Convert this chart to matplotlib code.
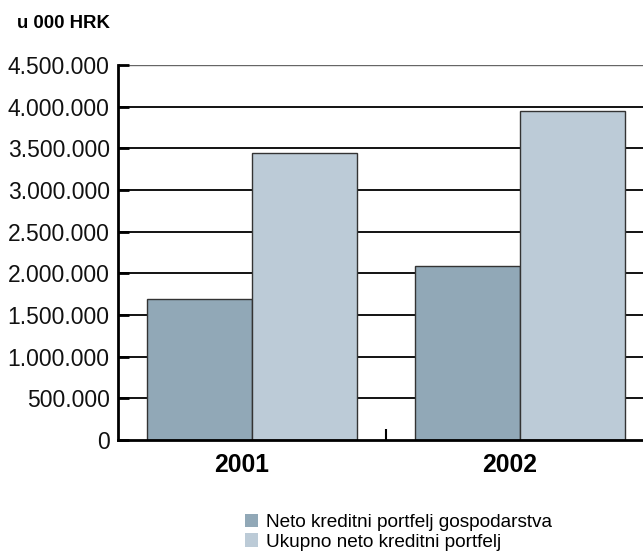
import numpy as np
import matplotlib
matplotlib.use('Agg')
import matplotlib.pyplot as plt
from matplotlib.ticker import FuncFormatter

years = ['2001', '2002']
neto_gospodarstvo = [1690000, 2090000]
ukupno_neto = [3445000, 3950000]
series_labels = ['Neto kreditni portfelj gospodarstva', 'Ukupno neto kreditni portfelj']
y_ticks = [0, 500000, 1000000, 1500000, 2000000, 2500000, 3000000, 3500000, 4000000, 4500000]

plt.rcParams['font.family'] = ['Liberation Sans', 'DejaVu Sans']

fig = plt.figure(figsize=(6.43, 5.52), dpi=100)
ax = fig.add_axes([118 / 643, 112 / 552, 536 / 643, 375 / 552])

x = np.arange(len(years))
w = 0.39
ax.bar(x - w / 2, neto_gospodarstvo, w, color='#91a8b7', edgecolor='#333333',
       linewidth=1, label=series_labels[0], zorder=3)
ax.bar(x + w / 2, ukupno_neto, w, color='#bccbd7', edgecolor='#333333',
       linewidth=1, label=series_labels[1], zorder=3)

ax.set_xlim(-0.5, 1.5)
ax.set_ylim(0, 4500000)
ax.set_yticks(y_ticks)
ax.yaxis.set_major_formatter(FuncFormatter(lambda v, p: f'{int(v):,}'.replace(',', '.')))
ax.tick_params(axis='y', direction='in', length=8, width=2, labelsize=16.5, pad=6)
for lbl in ax.get_yticklabels():
    lbl.set_color('#111111')

# gridlines
for v in y_ticks[1:]:
    ax.axhline(v, color='#000000' if v < 4500000 else '#666666', lw=1.3 if v < 4500000 else 1.0, zorder=1)

ax.set_xticks([0.5])
ax.set_xticklabels([''])
ax.tick_params(axis='x', direction='in', length=8, width=1.5)
for i, yr in enumerate(years):
    ax.text(x[i] - 0.04, -0.035, yr, transform=ax.get_xaxis_transform(), ha='center', va='top',
            fontsize=17.8, fontweight='bold')

for s in ['top', 'right']:
    ax.spines[s].set_visible(False)
ax.spines['left'].set_linewidth(2)
ax.spines['bottom'].set_linewidth(2)
ax.spines['left'].set_zorder(4)
ax.spines['bottom'].set_zorder(4)

fig.text(17 / 643, 1 - 23 / 552, 'u 000 HRK', fontsize=13.4, fontweight='bold', va='center', ha='left')

handles, labels = ax.get_legend_handles_labels()
leg = fig.legend(handles, labels, loc='upper left', bbox_to_anchor=(237 / 643, 1 - 506 / 552),
                 frameon=False, fontsize=13.7, handlelength=0.7, handleheight=0.7,
                 handletextpad=0.4, labelspacing=0.12, borderaxespad=0)
for p in leg.get_patches():
    p.set_edgecolor('none')

fig.savefig('out.png', dpi=100)
